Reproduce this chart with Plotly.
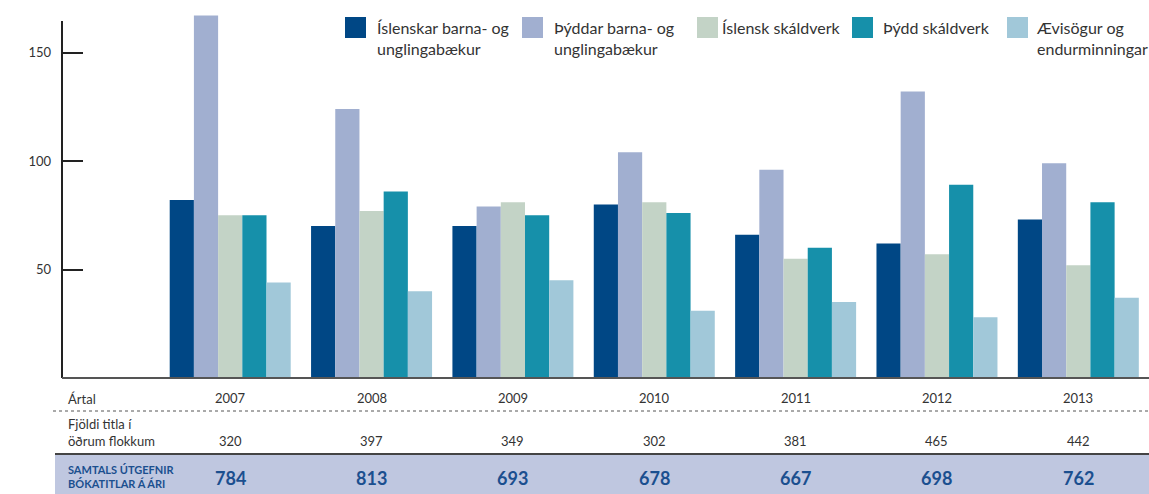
import plotly.graph_objects as go

years = ["2007", "2008", "2009", "2010", "2011", "2012", "2013"]
series_names = [
    "Íslenskar barna- og<br>unglingabækur",
    "Þýddar barna- og<br>unglingabækur",
    "Íslensk skáldverk",
    "Þýdd skáldverk",
    "Ævisögur og<br>endurminningar",
]
islenskar_barna = [82, 70, 70, 80, 66, 62, 73]
thyddar_barna = [167, 124, 79, 104, 96, 132, 99]
islensk_skaldverk = [75, 77, 81, 81, 55, 57, 52]
thydd_skaldverk = [75, 86, 75, 76, 60, 89, 81]
aevisogur = [44, 40, 45, 31, 35, 28, 37]
other_titles = [320, 397, 349, 302, 381, 465, 442]
totals = [784, 813, 693, 678, 667, 698, 762]

colors = ["#004785", "#a1afd0", "#c3d3c6", "#1690aa", "#a1c8d9"]
series = [islenskar_barna, thyddar_barna, islensk_skaldverk, thydd_skaldverk, aevisogur]

W, H = 1149, 494
L, R, T, B = 62, 0, 14, 116
PW, PH = W - L - R, H - T - B


def px(x):
    return (x - L) / PW


def py(y):
    return (H - B - y) / PH


fig = go.Figure()
for name, vals, col in zip(series_names, series, colors):
    fig.add_trace(go.Bar(x=years, y=vals, name=name.replace("<br>", " "),
                         marker=dict(color=col, line=dict(width=0)),
                         showlegend=False))

shapes = []
annotations = []
txt = "#333333"
blue = "#1b4f8f"
FONT = "Lato"

# axis lines
shapes.append(dict(type="line", xref="paper", yref="paper", x0=px(62), x1=px(62),
                   y0=py(378), y1=py(21), line=dict(color="#222222", width=2)))
shapes.append(dict(type="line", xref="paper", yref="paper", x0=px(62), x1=1,
                   y0=py(378), y1=py(378), line=dict(color="#555555", width=2)))

# legend
leg_sq = [345, 522, 697, 852, 1007]
leg_tx = [375, 552, 720, 881, 1034]
for name, col, sx, tx in zip(series_names, colors, leg_sq, leg_tx):
    shapes.append(dict(type="rect", xref="paper", yref="paper", x0=px(sx), x1=px(sx + 21),
                       y0=py(38), y1=py(17), fillcolor=col, line=dict(width=0)))
    annotations.append(dict(xref="paper", yref="paper", x=px(tx), y=py(16), text=name,
                            xanchor="left", yanchor="top", showarrow=False, align="left",
                            font=dict(size=16, color=txt, family=FONT)))

# table
shapes.append(dict(type="line", xref="paper", yref="paper", x0=px(53), x1=1,
                   y0=py(411), y1=py(411), line=dict(color="#555555", width=1, dash="dot")))
shapes.append(dict(type="rect", xref="paper", yref="paper", x0=px(55), x1=1,
                   y0=py(494), y1=py(454), fillcolor="#bfc7e0", line=dict(width=0)))
shapes.append(dict(type="line", xref="paper", yref="paper", x0=px(55), x1=1,
                   y0=py(454), y1=py(454), line=dict(color="#444444", width=2)))

annotations.append(dict(xref="paper", yref="paper", x=px(66), y=py(399), text="Ártal",
                        xanchor="left", yanchor="middle", showarrow=False,
                        font=dict(size=13, color=txt, family=FONT)))
annotations.append(dict(xref="paper", yref="paper", x=px(66), y=py(433),
                        text="Fjöldi titla í<br>öðrum flokkum", align="left",
                        xanchor="left", yanchor="middle", showarrow=False,
                        font=dict(size=13, color=txt, family=FONT)))
annotations.append(dict(xref="paper", yref="paper", x=px(66), y=py(476),
                        text="<b>SAMTALS ÚTGEFNIR<br>BÓKATITLAR Á ÁRI</b>", align="left",
                        xanchor="left", yanchor="middle", showarrow=False,
                        font=dict(size=11, color=blue, family=FONT)))
for i, (yr, o, t) in enumerate(zip(years, other_titles, totals)):
    annotations.append(dict(xref="x", yref="paper", x=i, y=py(398), text=yr,
                            xanchor="center", yanchor="middle", showarrow=False,
                            font=dict(size=13, color=txt, family=FONT)))
    annotations.append(dict(xref="x", yref="paper", x=i, y=py(441), text=str(o),
                            xanchor="center", yanchor="middle", showarrow=False,
                            font=dict(size=13, color=txt, family=FONT)))
    annotations.append(dict(xref="x", yref="paper", x=i, y=py(478), text=f"<b>{t}</b>",
                            xanchor="center", yanchor="middle", showarrow=False,
                            font=dict(size=18, color=blue, family=FONT)))

fig.update_layout(
    width=W, height=H,
    margin=dict(l=L, r=R, t=T, b=B, pad=0),
    paper_bgcolor="white", plot_bgcolor="white",
    barmode="group", bargap=0.144, bargroupgap=0,
    showlegend=False,
    shapes=shapes, annotations=annotations,
    font=dict(family=FONT, color=txt),
    xaxis=dict(type="category", categoryorder="array", categoryarray=years,
               range=[-1.19, 6.5], showticklabels=False, showgrid=False,
               zeroline=False, showline=False, ticks=""),
    yaxis=dict(range=[0, PH / 2.17], tickvals=[50, 100, 150], ticks="inside",
               ticklen=21, tickwidth=2, tickcolor="#222222", showgrid=False,
               zeroline=False, showline=False, ticklabelstandoff=10,
               tickfont=dict(size=13, color=txt, family=FONT)),
)

fig.write_html("out.html", config={"displayModeBar": False},
               post_script="document.body.style.margin='0';document.body.style.overflow='hidden';")
